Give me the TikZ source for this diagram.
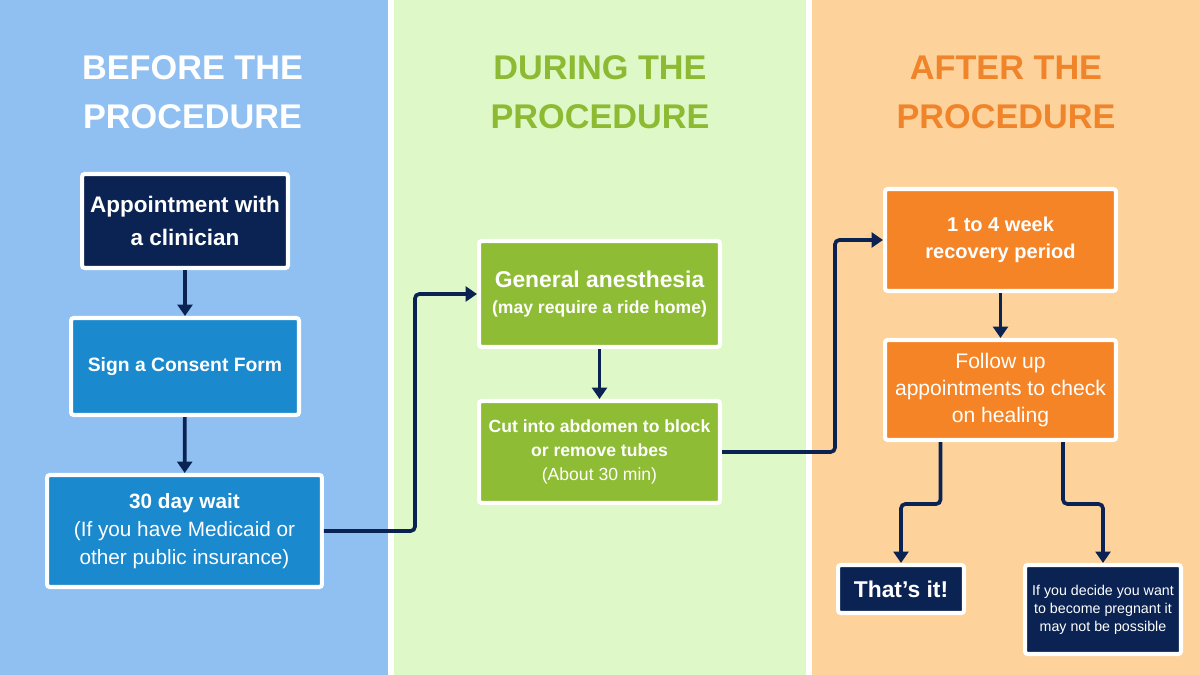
\documentclass[tikz,border=0pt]{standalone}
\usepackage{fontspec}
\setmainfont{Liberation Sans}
\usetikzlibrary{arrows.meta,calc}
\definecolor{panelblue}{HTML}{90C0F2}
\definecolor{panelgreen}{HTML}{DFF8C7}
\definecolor{panelorange}{HTML}{FDD39B}
\definecolor{navy}{HTML}{0A2352}
\definecolor{midblue}{HTML}{1B89CD}
\definecolor{boxgreen}{HTML}{8EBC34}
\definecolor{boxorange}{HTML}{F58426}
\definecolor{titlegreen}{HTML}{8CBA32}
\definecolor{titleorange}{HTML}{F0842A}
\tikzset{
  stagebox/.style={draw=white, line width=2.3pt, rounded corners=1.5pt, text=white, align=center, inner sep=2pt},
  titletext/.style={align=center, font={\fontsize{19.5}{27.8}\selectfont\bfseries}},
  flow/.style={draw=navy, line width=2.1pt, rounded corners=2.5pt, -{Triangle[width=8.5pt,length=6.5pt]}},
}
\begin{document}
\begin{tikzpicture}[x=0.02cm, y=-0.02cm]
\fill[white] (0,0) rectangle (1200,675);
\useasboundingbox (0,0) rectangle (1200,675);
\fill[panelblue] (0,0) rectangle (388,675);
\fill[panelgreen] (394,0) rectangle (806,675);
\fill[panelorange] (812,0) rectangle (1200,675);

\node[titletext, text=white] (t1) at (192.5,92.5) {BEFORE THE\\PROCEDURE};
\node[titletext, text=titlegreen] (t2) at (600,92.5) {DURING THE\\PROCEDURE};
\node[titletext, text=titleorange] (t3) at (1006,92.5) {AFTER THE\\PROCEDURE};

\node[stagebox, fill=navy, minimum width=4.12cm, minimum height=1.88cm,
  font={\fontsize{12.8}{18.7}\selectfont\bfseries}] (appt) at (185,221) {Appointment with\\a clinician};
\node[stagebox, fill=midblue, minimum width=4.56cm, minimum height=1.94cm,
  font={\fontsize{11}{16}\selectfont\bfseries}] (consent) at (185,366.5) {Sign a Consent Form};
\node[stagebox, fill=midblue, minimum width=5.5cm, minimum height=2.24cm,
  font={\fontsize{11.8}{16}\selectfont}] (wait) at (184.5,531) {\textbf{30 day wait}\\(If you have Medicaid or\\other public insurance)};

\node[stagebox, fill=boxgreen, minimum width=4.82cm, minimum height=2.12cm] (anes) at (599.5,294)
  {{\fontsize{13}{16}\selectfont\bfseries General anesthesia}\\[3pt]{\fontsize{10}{14}\selectfont\bfseries (may require a ride home)}};
\node[stagebox, fill=boxgreen, minimum width=4.82cm, minimum height=2.04cm,
  font={\fontsize{10}{13.8}\selectfont}] (cut) at (599.5,452) {\textbf{Cut into abdomen to block}\\\textbf{or remove tubes}\\(About 30 min)};

\node[stagebox, fill=boxorange, minimum width=4.62cm, minimum height=2.04cm,
  font={\fontsize{11.4}{15.3}\selectfont\bfseries}] (week) at (1000.5,240) {1 to 4 week\\recovery period};
\node[stagebox, fill=boxorange, minimum width=4.62cm, minimum height=2.0cm,
  font={\fontsize{12}{15.3}\selectfont}] (follow) at (1000.5,390) {Follow up\\appointments to check\\on healing};
\node[stagebox, fill=navy, minimum width=2.52cm, minimum height=0.96cm,
  font={\fontsize{13}{16}\selectfont\bfseries}] (thats) at (901,589) {That’s it!};
\node[stagebox, fill=navy, minimum width=3.12cm, minimum height=1.78cm,
  font={\fontsize{8.1}{10.3}\selectfont}] (ifyou) at (1103,609.5) {If you decide you want\\to become pregnant it\\may not be possible};

\draw[flow] (appt) -- (consent);
\draw[flow] (consent) -- (wait);
\draw[flow] (wait.east) -- ++(91,0) |- (anes.west);
\draw[flow] (anes) -- (cut);
\draw[flow] (cut.east) -- ++(113,0) |- (week.west);
\draw[flow] (week) -- (follow);
\coordinate (fl) at ($(follow.south)+(-60,0)$);
\coordinate (fr) at ($(follow.south)+(62.5,0)$);
\draw[flow] (fl) -- ++(0,62) -| (thats.north);
\draw[flow] (fr) -- ++(0,62) -| (ifyou.north);
\end{tikzpicture}
\end{document}
